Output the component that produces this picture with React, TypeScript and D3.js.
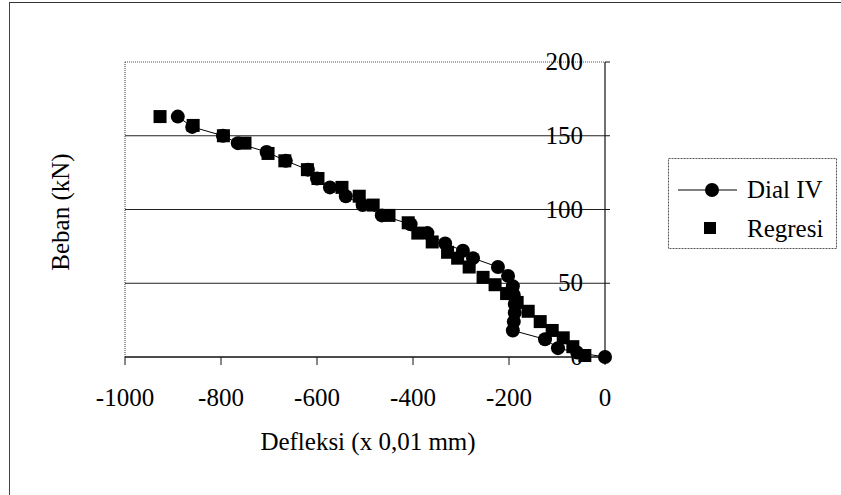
import React from 'react';
import { scaleLinear, line } from 'd3';

// Dial IV (measured) - deflection (x 0,01 mm) and load (kN)
const dialX = [0, -58, -98, -125, -192, -190, -188, -188, -190, -192, -202, -223, -275, -296, -333, -370, -405, -465, -505, -540, -573, -600, -619, -665, -705, -765, -796, -860, -890];
const dialY = [0, 3, 6, 12, 18, 24, 30, 36, 42, 48, 55, 61, 67, 72, 77, 84, 90, 96, 103, 109, 115, 121, 127, 133, 139, 145, 150, 156, 163];

// Regresi
const regX = [-42, -67, -87, -110, -135, -160, -183, -205, -229, -254, -283, -307, -328, -360, -390, -410, -450, -483, -512, -548, -598, -620, -667, -702, -750, -795, -858, -927];
const regY = [1, 7, 13, 18, 24, 31, 37, 43, 49, 54, 61, 67, 71, 78, 84, 91, 96, 103, 109, 115, 121, 127, 133, 138, 145, 150, 157, 163];

const xTicks = [-1000, -800, -600, -400, -200, 0];
const yTicks = [0, 50, 100, 150, 200];
const gridVals = [50, 100, 150];

const W = 841;
const H = 495;
const plot = { left: 125, right: 605, top: 62, bottom: 357 };
const font = '"Liberation Serif", "Times New Roman", serif';

export default function App() {
  const x = scaleLinear().domain([-1000, 0]).range([plot.left, plot.right]);
  const y = scaleLinear().domain([0, 200]).range([plot.bottom, plot.top]);

  const dial = dialX.map((v, i) => [v, dialY[i]] as [number, number]);
  const reg = regX.map((v, i) => [v, regY[i]] as [number, number]);
  const path = line<[number, number]>().x(d => x(d[0])).y(d => y(d[1]))(dial) || '';

  return (
    <svg width={W} height={H} style={{ position: 'absolute', left: 0, top: 0, background: '#fff' }} fontFamily={font}>
      {/* outer frame (cropped scan: top and left only) */}
      <line x1={9} x2={W} y1={2.5} y2={2.5} stroke="#333" strokeWidth={1.2} />
      <line x1={9.5} x2={9.5} y1={2} y2={H} stroke="#444" strokeWidth={1} />

      {/* plot border dotted */}
      <line x1={plot.left} x2={plot.right} y1={plot.top} y2={plot.top} stroke="#555" strokeWidth={1} strokeDasharray="1 1" />
      <line x1={plot.left} x2={plot.left} y1={plot.top} y2={plot.bottom} stroke="#555" strokeWidth={1.2} strokeDasharray="1 1" />

      {/* gridlines */}
      {gridVals.map(v => (
        <line key={v} x1={plot.left} x2={plot.right} y1={y(v)} y2={y(v)} stroke="#222" strokeWidth={1} />
      ))}

      {/* x axis */}
      <line x1={plot.left} x2={plot.right} y1={plot.bottom} y2={plot.bottom} stroke="#111" strokeWidth={1.5} />
      {xTicks.map(t => (
        <g key={t}>
          <line x1={x(t)} x2={x(t)} y1={plot.bottom} y2={plot.bottom + 8} stroke="#111" strokeWidth={1} />
          <text x={x(t)} y={406} fontSize={25} textAnchor="middle" fill="#000">{t}</text>
        </g>
      ))}

      {/* y axis at x = 0 */}
      <line x1={x(0)} x2={x(0)} y1={plot.top} y2={plot.bottom} stroke="#111" strokeWidth={1.2} />
      {yTicks.map(t => (
        <g key={t}>
          <line x1={x(0)} x2={x(0) + 5} y1={y(t)} y2={y(t)} stroke="#111" strokeWidth={1} />
          <text x={x(0) - 22} y={y(t) + 8} fontSize={25} textAnchor="end" fill="#000">{t}</text>
        </g>
      ))}

      {/* Dial IV */}
      <path d={path} fill="none" stroke="#000" strokeWidth={1} />
      {reg.map((d, i) => (
        <rect key={'r' + i} x={x(d[0]) - 6.5} y={y(d[1]) - 6.5} width={13} height={13} fill="#000" />
      ))}
      {dial.map((d, i) => (
        <circle key={'c' + i} cx={x(d[0])} cy={y(d[1])} r={7} fill="#000" />
      ))}

      {/* axis titles */}
      <text x={368} y={450} fontSize={25} textAnchor="middle" fill="#000">Defleksi (x 0,01 mm)</text>
      <text transform="translate(69, 212) rotate(-90)" fontSize={25} textAnchor="middle" fill="#000">Beban (kN)</text>

      {/* legend */}
      <rect x={668.5} y={158.5} width={168} height={90} fill="none" stroke="#555" strokeWidth={1} strokeDasharray="2 1" />
      <line x1={678} x2={737} y1={190} y2={190} stroke="#000" strokeWidth={1} />
      <circle cx={712} cy={190} r={7} fill="#000" />
      <text x={747} y={198} fontSize={25} fill="#000">Dial IV</text>
      <rect x={704} y={222} width={12} height={12} fill="#000" />
      <text x={747} y={237} fontSize={25} fill="#000">Regresi</text>
    </svg>
  );
}
